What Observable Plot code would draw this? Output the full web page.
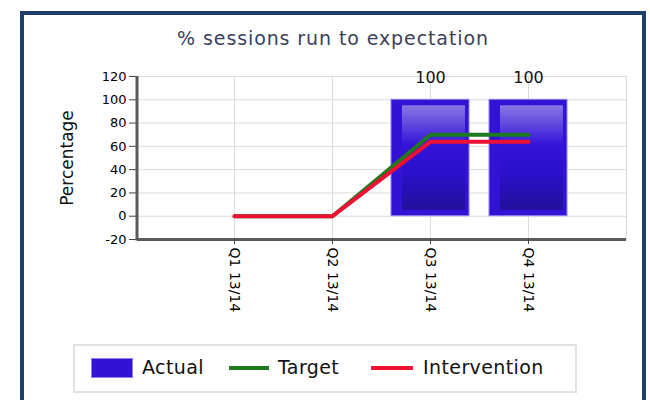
<!DOCTYPE html>
<html><head><meta charset="utf-8">
<script src="https://cdn.jsdelivr.net/npm/d3@7"></script>
<script src="https://cdn.jsdelivr.net/npm/@observablehq/plot@0.6"></script>
<style>
body{margin:0;background:#fff;font-family:"DejaVu Sans",sans-serif;width:650px;height:400px;overflow:hidden;position:relative;}
#frame{position:absolute;left:20px;top:11px;width:618px;height:400px;border:4px solid #1d3f6e;border-bottom:none;}
#title{position:absolute;left:0;width:666px;top:27px;text-align:center;font-size:19px;letter-spacing:0.9px;color:#3b3f5c;}
#ylab{position:absolute;left:67px;top:158px;transform:translate(-50%,-50%) rotate(-90deg);font-size:17px;color:#111;white-space:nowrap;}
#chart{position:absolute;left:0;top:0;}
#legend{position:absolute;left:73px;top:344px;width:500px;height:45px;border:2px solid #e2e2e2;}
.lg{position:absolute;font-size:19px;letter-spacing:0.4px;color:#111;top:356px;}
.sw{position:absolute;}
</style></head>
<body>
<div id="frame"></div>
<div id="chart"></div>
<div id="title">% sessions run to expectation</div>
<div id="ylab">Percentage</div>
<div id="legend"></div>
<div class="sw" style="left:91px;top:358px;width:42px;height:20px;background:#3212d4;border:1px solid #8d83f0;box-sizing:border-box;"></div>
<div class="lg" style="left:142px;">Actual</div>
<div class="sw" style="left:229px;top:366px;width:40px;height:4px;background:#1f7a1f;"></div>
<div class="lg" style="left:278px;">Target</div>
<div class="sw" style="left:371px;top:366px;width:42px;height:4px;background:#ee1133;"></div>
<div class="lg" style="left:423px;">Intervention</div>
<script>
const quarters = ["Q1 13/14", "Q2 13/14", "Q3 13/14", "Q4 13/14"];
const actual = [null, null, 100, 100];
const target = [0, 0, 70, 70];
const intervention = [0, 0, 64, 64];
const yTicks = [-20, 0, 20, 40, 60, 80, 100, 120];

const rows = quarters.map((q, i) => ({q, actual: actual[i], target: target[i], intervention: intervention[i]}));
const barRows = rows.filter(d => d.actual != null);

const chart = Plot.plot({
  width: 650, height: 330,
  marginLeft: 137, marginRight: 24, marginTop: 76, marginBottom: 91,
  style: {fontFamily: "DejaVu Sans", fontSize: "13px", color: "#000", background: "transparent", overflow: "visible"},
  x: {type: "band", domain: quarters, paddingInner: 0.2, paddingOuter: 0.57, label: null},
  y: {domain: [-20, 120], label: null},
  marks: [
    Plot.gridY(yTicks, {stroke: "#dcdcdc", strokeOpacity: 1}),
    Plot.gridX(quarters, {stroke: "#dcdcdc", strokeOpacity: 1}),
    Plot.frame({stroke: "#dcdcdc"}),
    Plot.barY(barRows, {x: "q", y: "actual", fill: "#3212d4", stroke: "#8d83f0", strokeWidth: 1}),
    Plot.barY(barRows, {x: "q", y: "actual", fill: "url(#barGrad)", insetLeft: 11, insetRight: 4, insetTop: 6, insetBottom: 6}),
    Plot.line(rows, {x: "q", y: "target", stroke: "#1f7a1f", strokeWidth: 4}),
    Plot.line(rows, {x: "q", y: "intervention", stroke: "#ee1133", strokeWidth: 4}),
    Plot.text(barRows, {x: "q", y: "actual", text: d => String(d.actual), dy: -22, fontSize: 16, fill: "#111"}),
    Plot.ruleY([-20], {stroke: "#5a5a5a", strokeWidth: 3}),
    Plot.axisY(yTicks, {tickSize: 8, tickPadding: 3, fontSize: 13, stroke: "#444", label: null, tickFormat: d => String(d)}),
    Plot.axisX(quarters, {tickSize: 5, tickPadding: 3, tickRotate: 90, fontSize: 14, stroke: "#444", label: null})
  ]
});
document.getElementById("chart").appendChild(chart);

const svg = d3.select(chart);
svg.insert("defs", ":first-child").html(
  '<linearGradient id="barGrad" x1="0" y1="0" x2="0" y2="1">' +
  '<stop offset="0" stop-color="#8878e4"/>' +
  '<stop offset="0.38" stop-color="#3414d8"/>' +
  '<stop offset="0.65" stop-color="#2c10cc"/>' +
  '<stop offset="1" stop-color="#22109a"/>' +
  '</linearGradient>');
const ys = chart.scale("y"), xs = chart.scale("x");
svg.append("line")
  .attr("x1", xs.range[0]).attr("x2", xs.range[0])
  .attr("y1", ys.apply(120)).attr("y2", ys.apply(-20) + 1.5)
  .attr("stroke", "#5a5a5a").attr("stroke-width", 3);
</script>
</body></html>
